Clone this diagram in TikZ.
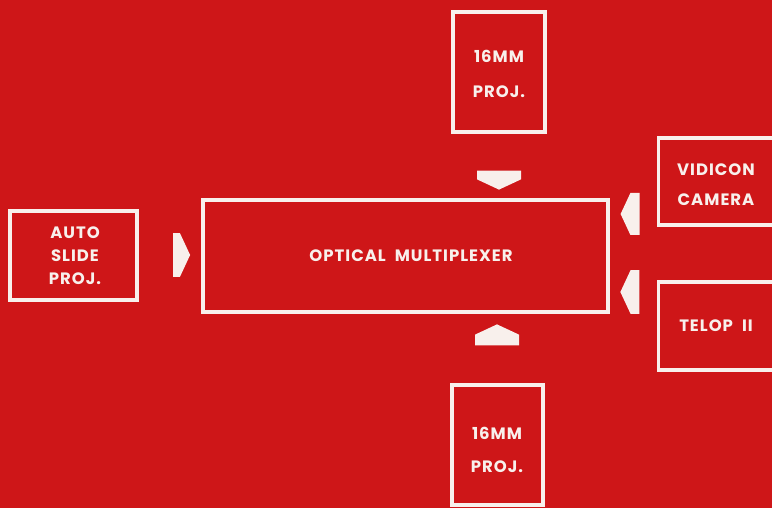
\documentclass[tikz,border=0pt]{standalone}
\usepackage{fontspec}
\setsansfont{Poppins}[LetterSpace=6]
\usetikzlibrary{shapes.arrows}
\definecolor{slidered}{RGB}{206,22,24}
\definecolor{chalk}{RGB}{248,240,236}

\tikzset{
  frame/.style={draw=chalk, line width=3.2pt, inner sep=0pt},
  lbl/.style={text=chalk, font=\sffamily\bfseries\fontsize{16.5}{24}\selectfont, align=center, inner sep=0pt},
  feed/.style={single arrow, single arrow head extend=0pt, single arrow tip angle=130,
    fill=chalk, draw=none, inner sep=0pt, minimum height=19pt, minimum width=44pt}
}

\begin{document}
\begin{tikzpicture}[x=1pt, y=-1pt]

\fill[slidered] (0,0) rectangle (772,508);
\clip (0,0) rectangle (772,508);

% === multiplexer ===
\node[frame, minimum width=405pt, minimum height=112pt] (mux) at (405.5,256) {};
\node[lbl] (muxtext) at (411,256) {OPTICAL\ \ MULTIPLEXER};

% === 16mm projectors ===
\node[frame, minimum width=92pt, minimum height=120pt] (projtop) at (499,72) {};
\node[lbl, font=\sffamily\bfseries\fontsize{16.5}{35}\selectfont] (projtoptext) at (499,74) {16MM\\PROJ.};
\node[frame, minimum width=91pt, minimum height=120pt] (projbot) at (497.5,445) {};
\node[lbl, font=\sffamily\bfseries\fontsize{16.5}{33}\selectfont] (projbottext) at (497,450) {16MM\\PROJ.};

% === auto slide projector ===
\node[frame, minimum width=127pt, minimum height=89pt] (slide) at (73.5,255.5) {};
\node[lbl, font=\sffamily\bfseries\fontsize{16.5}{23}\selectfont] (slidetext) at (75,256) {AUTO\\SLIDE\\PROJ.};

% === camera and telop ===
\node[frame, minimum width=140pt, minimum height=87pt, anchor=west] (vidicon) at (657,181.5) {};
\node[lbl, font=\sffamily\bfseries\fontsize{16.5}{30}\selectfont] (vidicontext) at (716,185) {VIDICON\\CAMERA};
\node[frame, minimum width=140pt, minimum height=88pt, anchor=west] (telop) at (657,326) {};
\node[lbl] (teloptext) at (716,326) {TELOP\ \ II};

% === feed arrows ===
\node[feed, shape border rotate=270] (fromtop) at (499,175) {};
\node[feed, shape border rotate=90, minimum height=21pt] (frombot) at (497,340) {};
\node[feed, shape border rotate=0, minimum height=17pt] (fromslide) at (176.5,255) {};
\node[feed, shape border rotate=180, minimum width=42pt] (fromvidicon) at (635,214) {};
\node[feed, shape border rotate=180] (fromtelop) at (635,292) {};

\end{tikzpicture}
\end{document}
